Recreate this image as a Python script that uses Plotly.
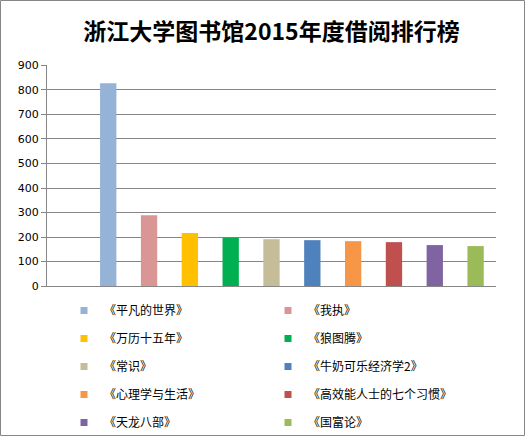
import plotly.graph_objects as go

# 浙江大学图书馆 2015 借阅排行
books = ["《平凡的世界》", "《我执》", "《万历十五年》", "《狼图腾》", "《常识》",
         "《牛奶可乐经济学2》", "《心理学与生活》", "《高效能人士的七个习惯》",
         "《天龙八部》", "《国富论》"]
loans = [828, 289, 216, 197, 191, 187, 183, 179, 167, 163]
colors = ["#95B3D7", "#D99694", "#FFC000", "#00B050", "#C4BD97",
          "#4F81BD", "#F79646", "#C0504D", "#8064A2", "#9BBB59"]
y_ticks = list(range(0, 1000, 100))

W, H = 526, 437
L, R, T, B = 47, 30, 65, 151
pw, ph = W - L - R, H - T - B
grey = "#868686"


def px_x(p):
    return (p - L) / pw


def px_y(p):
    return (H - B - p) / ph


fig = go.Figure()

for i, (name, v, c) in enumerate(zip(books, loans, colors)):
    fig.add_trace(go.Bar(x=[i + 1], y=[v], width=0.4, marker=dict(color=c, line=dict(width=0)),
                         name=name, showlegend=False, legendgroup=str(i)))
    # small square legend entry
    fig.add_trace(go.Scatter(x=[None], y=[None], mode="markers", name=name,
                             marker=dict(symbol="square", size=7, color=c),
                             legend="legend" if i % 2 == 0 else "legend2",
                             legendgroup=str(i)))

leg_font = dict(family="Noto Sans CJK SC", size=12, color="#000000")
leg_common = dict(orientation="v", xanchor="left", yanchor="top", tracegroupgap=9,
                  itemsizing="trace", font=leg_font, bgcolor="rgba(0,0,0,0)")

fig.update_layout(
    width=W, height=H,
    margin=dict(l=L, r=R, t=T, b=B, autoexpand=False),
    paper_bgcolor="white", plot_bgcolor="white",
    title=dict(text="<b>浙江大学图书馆2015年度借阅排行榜</b>", x=0.5, xref="paper",
               y=1 - 32 / H, yanchor="middle", xanchor="center",
               font=dict(family="Noto Sans CJK SC", size=23, color="#000000")),
    xaxis=dict(range=[-0.5, 10.5], showticklabels=False, showgrid=False, zeroline=False,
               showline=True, linecolor=grey, linewidth=1, fixedrange=True),
    yaxis=dict(range=[0, 902], tickvals=y_ticks, showgrid=True, gridcolor=grey, gridwidth=1,
               zeroline=False, showline=True, linecolor=grey, linewidth=1,
               ticks="outside", ticklen=5, tickcolor=grey,
               tickfont=dict(family="DejaVu Sans", size=11, color="#000000")),
    legend=dict(x=px_x(64), y=px_y(296), **leg_common),
    legend2=dict(x=px_x(268), y=px_y(296), **leg_common),
    showlegend=True,
    shapes=[dict(type="rect", xref="paper", yref="paper",
                 x0=px_x(0.5), x1=px_x(W - 1.5), y0=px_y(H - 1.5), y1=px_y(0.5),
                 line=dict(color=grey, width=1), fillcolor="rgba(0,0,0,0)", layer="above")],
)

fig.write_html("out.html", config={"displayModeBar": False},
               post_script="document.body.style.margin='0';document.body.style.overflow='hidden';")
